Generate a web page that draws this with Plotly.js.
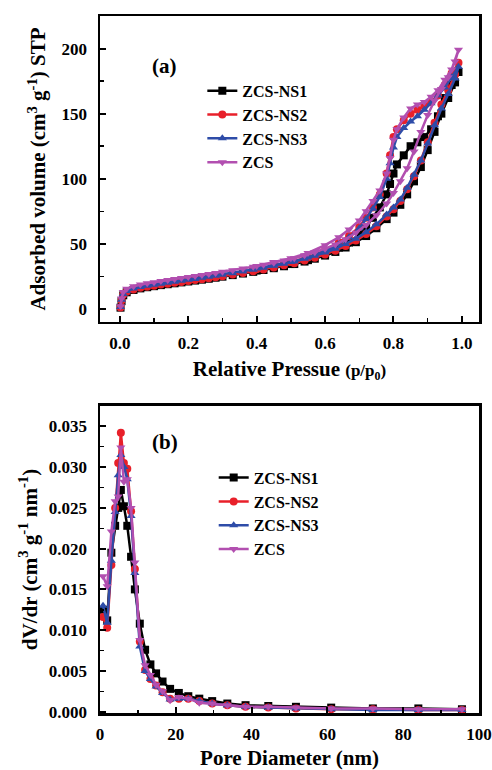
<!DOCTYPE html>
<html>
<head>
<meta charset="utf-8">
<script src="https://cdn.plot.ly/plotly-3.0.1.min.js"></script>
<style>html,body{margin:0;padding:0;background:#fff;}#chart{width:492px;height:770px;}</style>
</head>
<body>
<div id="chart"></div>
<script>
// ---------- Panel (a): N2 isotherms (adsorption then desorption) ----------
const pAds = [0.002,0.005,0.01,0.02,0.04,0.06,0.08,0.10,0.12,0.14,0.16,0.18,0.20,0.22,0.24,0.26,0.28,0.30,0.33,0.36,0.39,0.42,0.45,0.48,0.51,0.54,0.57,0.60,0.63,0.66,0.69,0.72,0.75,0.78,0.80,0.82,0.84,0.86,0.88,0.90,0.92,0.94,0.96,0.98,0.99];
const pDes = [0.97,0.95,0.93,0.91,0.89,0.87,0.85,0.83,0.81,0.80,0.79,0.78,0.76,0.74,0.72,0.70,0.67,0.64,0.60,0.55,0.50,0.45,0.40];

const ns1Ads = [1,6,10.5,12.8,14.6,15.8,16.7,17.5,18.3,19,19.7,20.4,21.1,21.8,22.5,23.2,24,24.8,26,27.2,28.5,29.9,31.3,32.8,34.5,36.4,38.6,41,43.8,47.2,51.3,56,62,69,74,80,88,98,109,122,136,150,162,174,182];
const ns1Des = [172,162,148,138,132,128,125,118,111,104,96,88,78,70,63,57,51,47,42,37.5,34.5,32,29.5];

const ns2Ads = [1.2,6.5,11,13.2,15,16.2,17.1,17.9,18.7,19.4,20.1,20.8,21.5,22.2,22.9,23.6,24.4,25.2,26.4,27.7,29,30.4,31.9,33.5,35.2,37.2,39.4,41.9,44.8,48.3,52.5,57.5,63.5,71,76.5,83,92,102,114,128,143,157,168,180,189];
const ns2Des = [181,172,164,159,156,153,150,145,138,132,118,104,88,78,70,63,56,51,45,39.5,36,33,30.5];

const ns3Ads = [1.5,7,11.5,13.8,15.7,16.9,17.8,18.6,19.4,20.2,20.9,21.6,22.4,23.1,23.9,24.7,25.5,26.3,27.5,28.8,30.2,31.6,33.1,34.7,36.5,38.5,40.8,43.3,46.2,49.8,54,59,65,72.5,78,84,93,103,114,127,141,154,165,177,186];
const ns3Des = [178,170,164,158,153,148,144,139,132,124,112,100,86,77,69,62,55,50,44.5,39.5,36,33.5,31];

const zcsAds = [2,8,13,15.5,17.5,18.8,19.8,20.6,21.4,22.2,23,23.8,24.5,25.3,26.1,26.9,27.7,28.5,29.8,31.1,32.5,34,35.5,37.2,39,41.2,43.6,46.3,49.5,53.5,58.5,64.5,72,81,89,98,108,121,136,149,160,169,178,190,199];
const zcsDes = [184,176,168,163,159,157,154,147,138,130,116,104,91,83,75,68,61,55,49,43,39,36,33];

// ---------- Panel (b): pore size distribution ----------
const dPore = [0.8,1.9,3.0,4.0,4.8,5.5,6.3,7.2,8.2,9.2,10.5,11.9,13.3,14.8,16.5,18.5,20.8,23.3,26.2,29.6,33.6,38.4,44.4,51.7,61.0,72.0,84.0,95.5];
const ns1Psd = [0.0125,0.0112,0.0195,0.0228,0.0250,0.0272,0.0252,0.0228,0.0190,0.0150,0.0108,0.0076,0.0058,0.0047,0.0037,0.0028,0.0023,0.0019,0.0016,0.0013,0.0010,0.0008,0.0007,0.0006,0.0005,0.0004,0.0004,0.0003];
const ns2Psd = [0.0116,0.0103,0.0180,0.0250,0.0305,0.0342,0.0305,0.0298,0.0246,0.0175,0.0086,0.0051,0.0040,0.0032,0.0024,0.0016,0.0016,0.0016,0.0013,0.0010,0.0008,0.0006,0.0005,0.0004,0.0003,0.0003,0.0002,0.0002];
const ns3Psd = [0.0130,0.0109,0.0185,0.0245,0.0290,0.0315,0.0300,0.0285,0.0240,0.0170,0.0080,0.0050,0.0040,0.0031,0.0023,0.0015,0.0016,0.0016,0.0013,0.0010,0.0008,0.0006,0.0005,0.0004,0.0003,0.0002,0.0002,0.0002];
const zcsPsd = [0.0166,0.0154,0.0221,0.0258,0.0264,0.0324,0.0282,0.0285,0.0250,0.0183,0.0088,0.0057,0.0045,0.0033,0.0025,0.0014,0.0018,0.0016,0.0011,0.0010,0.0008,0.0006,0.0006,0.0005,0.0004,0.0004,0.0003,0.0003];

// tick labels
const xTicksA = [0,0.2,0.4,0.6,0.8,1.0];
const xLabelsA = ['0.0','0.2','0.4','0.6','0.8','1.0'];
const yTicksA = [0,50,100,150,200];
const yLabelsA = ['0','50','100','150','200'];
const xTicksB = [0,20,40,60,80,100];
const xLabelsB = ['0','20','40','60','80','100'];
const yTicksB = [0,0.005,0.01,0.015,0.02,0.025,0.03,0.035];
const yLabelsB = ['0.000','0.005','0.010','0.015','0.020','0.025','0.030','0.035'];

const names = ['ZCS-NS1','ZCS-NS2','ZCS-NS3','ZCS'];
const colors = ['#000000','#e8202a','#2e4ca8','#b24fb0'];
const symbols = ['square','circle','triangle-up','triangle-down'];

const FONT = '"Liberation Serif", "DejaVu Serif", serif';
const bold = s => '<b>' + s + '</b>';

const isoY = [[ns1Ads,ns1Des],[ns2Ads,ns2Des],[ns3Ads,ns3Des],[zcsAds,zcsDes]];
const psdY = [ns1Psd,ns2Psd,ns3Psd,zcsPsd];

const traces = [];
names.forEach((n,i)=>{
  traces.push({
    x: pAds.concat(pDes), y: isoY[i][0].concat(isoY[i][1]),
    xaxis:'x', yaxis:'y', mode:'lines+markers', name:bold(n), legend:'legend',
    line:{color:colors[i], width:2.5},
    marker:{symbol:symbols[i], size:8, color:colors[i]}
  });
});
names.forEach((n,i)=>{
  traces.push({
    x: dPore, y: psdY[i],
    xaxis:'x2', yaxis:'y2', mode:'lines+markers', name:bold(n), legend:'legend2',
    line:{color:colors[i], width:2.5},
    marker:{symbol:symbols[i], size:8, color:colors[i]}
  });
});

const tickFont = {family:FONT, size:17, color:'#000', weight:'bold'};
const titleFont = {family:FONT, size:21, color:'#000'};
function ax(extra){
  return Object.assign({
    showgrid:false, zeroline:false, showline:true, linecolor:'#000', linewidth:2.5, mirror:true,
    ticks:'inside', ticklen:6, tickwidth:2, tickcolor:'#000', tickfont:tickFont, tickmode:'array'
  }, extra);
}
const minorT = (d)=>({ticks:'inside', ticklen:3.5, tickwidth:1.5, tickcolor:'#000', dtick:d, tick0:0});

const layout = {
  width:492, height:770,
  margin:{l:100, r:13, t:16, b:57},
  paper_bgcolor:'#fff', plot_bgcolor:'#fff',
  showlegend:true,
  font:{family:FONT, color:'#000'},
  xaxis: ax({
    anchor:'y', domain:[0,1], range:[-0.058,1.05], tickvals:xTicksA, ticktext:xLabelsA.map(bold),
    minor:minorT(0.1), ticklabelstandoff:4,
    title:{text:bold("Relative Pressue <span style='font-size:17px'>(p/p<sub>0</sub>)</span>"), font:titleFont, standoff:10}
  }),
  yaxis: ax({
    anchor:'x', domain:[0.561,1], range:[-10,225], tickvals:yTicksA, ticktext:yLabelsA.map(bold),
    minor:minorT(25), ticklabelstandoff:7,
    title:{text:bold("Adsorbed volume (cm<sup>3</sup> g<sup>-1</sup>) STP"), font:titleFont, standoff:10}
  }),
  xaxis2: ax({
    anchor:'y2', domain:[0,1], range:[0,100], tickvals:xTicksB, ticktext:xLabelsB.map(bold),
    minor:minorT(10), ticklabelstandoff:4,
    title:{text:bold("Pore Diameter (nm)"), font:titleFont, standoff:8}
  }),
  yaxis2: ax({
    anchor:'x2', domain:[0,0.4405], range:[-0.00016,0.0375], tickvals:yTicksB, ticktext:yLabelsB.map(bold),
    minor:minorT(0.0025), ticklabelstandoff:7,
    title:{text:bold("dV/dr (cm<sup>3</sup> g<sup>-1</sup> nm<sup>-1</sup>)"), font:titleFont, standoff:6}
  }),
  legend:{x:0.27, y:0.917, xanchor:'left', yanchor:'top', bgcolor:'rgba(0,0,0,0)', borderwidth:0,
    font:{family:FONT, size:16, color:'#000', weight:'bold'}, tracegroupgap:0, itemwidth:30},
  legend2:{x:0.30, y:0.362, xanchor:'left', yanchor:'top', bgcolor:'rgba(0,0,0,0)', borderwidth:0,
    font:{family:FONT, size:16, color:'#000', weight:'bold'}, tracegroupgap:0, itemwidth:30},
  annotations:[
    {xref:'paper', yref:'paper', x:(150-100)/379, y:(713-52)/697, text:bold('(a)'), showarrow:false,
     font:{family:FONT, size:21, color:'#000'}},
    {xref:'paper', yref:'paper', x:(150-100)/379, y:(713-442)/697, text:bold('(b)'), showarrow:false,
     font:{family:FONT, size:21, color:'#000'}}
  ]
};

Plotly.newPlot('chart', traces, layout, {displayModeBar:false, staticPlot:true});
</script>
</body>
</html>
